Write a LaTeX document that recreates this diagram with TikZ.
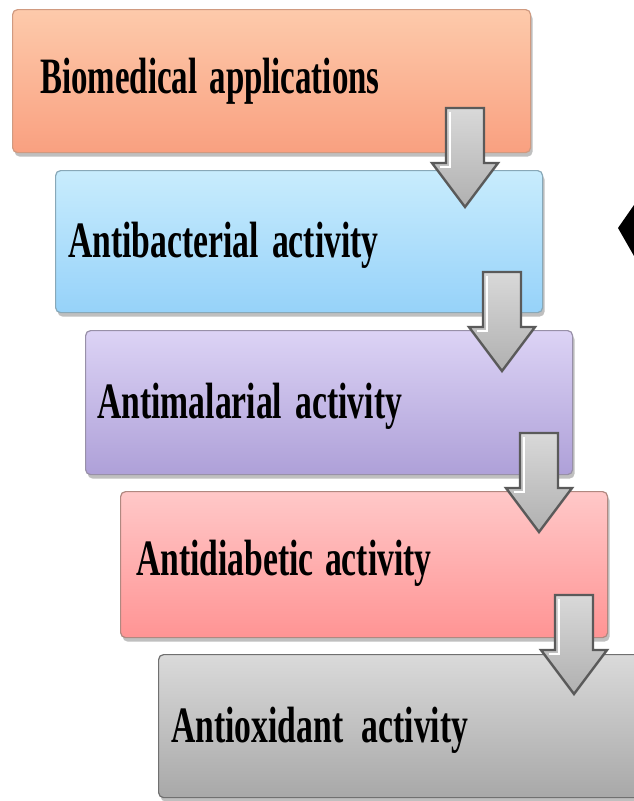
\documentclass[tikz,border=0pt]{standalone}
\usepackage{fontspec}
\setmainfont{Liberation Serif}
\usetikzlibrary{shadows}
\definecolor{o1}{HTML}{FDCAAB}\definecolor{o2}{HTML}{F9A080}\definecolor{ob}{HTML}{D09A80}
\definecolor{c1}{HTML}{C8ECFD}\definecolor{c2}{HTML}{96D2F9}\definecolor{cb}{HTML}{88A8B8}
\definecolor{p1}{HTML}{DCD3F5}\definecolor{p2}{HTML}{AEA0D8}\definecolor{pb}{HTML}{9890A8}
\definecolor{r1}{HTML}{FFC8C8}\definecolor{r2}{HTML}{FF9494}\definecolor{rb}{HTML}{B08880}
\definecolor{g1}{HTML}{DADADA}\definecolor{g2}{HTML}{A8A8A8}\definecolor{gb}{HTML}{707070}
\definecolor{arrowline}{HTML}{5A5A5A}
\begin{document}
\begin{tikzpicture}[x=1pt,y=-1pt,
  box/.style n args={3}{draw=#3, line width=1.2pt, rounded corners=5pt, anchor=north west,
    inner sep=0pt, top color=#1, bottom color=#2,
    drop shadow={shadow xshift=2pt, shadow yshift=-4pt, fill=black, opacity=0.25}},
  lbl/.style={anchor=base west, inner sep=0pt, font=\fontsize{51}{55}\selectfont\bfseries},
  arrowbody/.style={draw=arrowline, line width=2.4pt, line join=miter, top color=gray!30, bottom color=gray!62},
  blockarrow/.pic={
    \path[arrowbody] (-19,0) -- (19,0) -- (19,55) -- (33,55) -- (0,99) -- (-33,55) -- (-19,55) -- cycle;
    \draw[white, line width=1.2pt] (-15,4) -- (-15,59) -- (-25,59);
  }]
\useasboundingbox (0,0) rectangle (633,801);
\fill[white] (0,0) rectangle (633,801);
% boxes
\node[box={o1}{o2}{ob}, minimum width=518pt, minimum height=143pt] (b1) at (12,9) {};
\node[box={c1}{c2}{cb}, minimum width=487pt, minimum height=142pt] (b2) at (55,170) {};
\node[box={p1}{p2}{pb}, minimum width=487pt, minimum height=144pt] (b3) at (85,330) {};
\node[box={r1}{r2}{rb}, minimum width=487pt, minimum height=146pt] (b4) at (120,491) {};
\node[box={g1}{g2}{gb}, minimum width=500pt, minimum height=143pt] (b5) at (158,654) {};
% labels
\node[lbl] (t1) at (40,93)  {\scalebox{0.645}[1]{Biomedical\hspace{19pt}applications}};
\node[lbl] (t2) at (68,257) {\scalebox{0.66}[1]{Antibacterial\hspace{20pt}activity}};
\node[lbl] (t3) at (97,418) {\scalebox{0.66}[1]{Antimalarial\hspace{20pt}activity}};
\node[lbl] (t4) at (136,575) {\scalebox{0.66}[1]{Antidiabetic\hspace{17pt}activity}};
\node[lbl] (t5) at (171,742) {\scalebox{0.66}[1]{Antioxidant\hspace{28pt}activity}};
% arrows
\pic (a1) at (465,108) {blockarrow};
\pic (a2) at (502,272) {blockarrow};
\pic (a3) at (539,433) {blockarrow};
\pic (a4) at (574,595) {blockarrow};
% partial black arrowhead at right edge
\fill[black] (618,228) -- (634,205) -- (634,256) -- cycle;
\end{tikzpicture}
\end{document}
